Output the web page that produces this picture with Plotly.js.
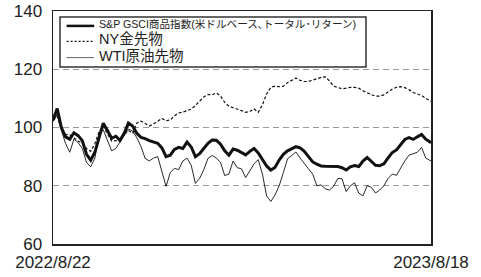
<!DOCTYPE html>
<html><head><meta charset="utf-8">
<script src="https://cdn.plot.ly/plotly-3.0.1.min.js"></script>
<style>html,body{margin:0;padding:0;background:#fff}#chart{width:481px;height:277px}</style>
</head><body><div id="chart"></div>
<script>
const dates = [
"2022-08-22","2022-08-26","2022-08-30","2022-09-03","2022-09-07","2022-09-11","2022-09-15","2022-09-19","2022-09-23","2022-09-27",
"2022-10-01","2022-10-05","2022-10-09","2022-10-13","2022-10-17","2022-10-21","2022-10-25","2022-10-29",
"2022-11-02","2022-11-06","2022-11-10","2022-11-14","2022-11-18","2022-11-22","2022-11-26","2022-11-30",
"2022-12-04","2022-12-08","2022-12-12","2022-12-16","2022-12-20","2022-12-24","2022-12-28",
"2023-01-01","2023-01-05","2023-01-09","2023-01-13","2023-01-17","2023-01-21","2023-01-25","2023-01-29",
"2023-02-02","2023-02-06","2023-02-10","2023-02-14","2023-02-18","2023-02-22","2023-02-26",
"2023-03-02","2023-03-06","2023-03-10","2023-03-14","2023-03-18","2023-03-22","2023-03-26","2023-03-30",
"2023-04-03","2023-04-07","2023-04-11","2023-04-15","2023-04-19","2023-04-23","2023-04-27",
"2023-05-01","2023-05-05","2023-05-09","2023-05-13","2023-05-17","2023-05-21","2023-05-25","2023-05-29",
"2023-06-02","2023-06-06","2023-06-10","2023-06-14","2023-06-18","2023-06-22","2023-06-26","2023-06-30",
"2023-07-04","2023-07-08","2023-07-12","2023-07-16","2023-07-20","2023-07-24","2023-07-28",
"2023-08-01","2023-08-05","2023-08-09","2023-08-13","2023-08-18"];

const gsci = [102.6,106.5,100,96.8,96,98.2,97.2,95.5,90.8,88.8,
91.5,97,101.5,99,96.3,97,95.6,98,
101.5,100.5,98,96.6,96.2,95.5,95,94.6,
93,90,90.5,92.5,93.2,92.8,95,
93.3,90,91,92.8,94.6,95.7,95.6,94.3,
92,90.5,92.6,92.2,91.3,90.6,91.8,
92.8,91.3,89,86.8,85.4,86.3,88.8,90.8,
92,92.8,93.4,93,91.8,90,88.2,
87.4,86.8,86.7,86.7,86.6,86.6,86.2,85.4,
86.5,86.9,86.6,88.5,89.7,88.3,87,86.9,
87.5,89.6,91.4,92.3,94,95.9,96.5,
95.9,96.8,97.6,96,94.8];

const gold = [102.5,103.8,99.5,97.6,97.5,96.3,95.4,94.5,92.8,91.8,
94.5,98.5,100.5,97.8,95.3,95.5,95.3,97.5,
99,98,101.5,102.2,101.4,100.5,101.2,102.2,
103.1,102.3,102.6,104,105,105.3,105.8,
106.3,107.6,109,110.5,111.3,111.2,111.9,110.8,
108.6,107.3,106.8,106.4,105.8,105.2,105.5,
106.4,105.2,107.8,111.5,113.8,114.2,114,114.2,
115.4,116.3,117,116.2,115.8,115.8,116.3,
116.8,117.2,117.4,116,114.2,113.7,113.3,113.5,
113.8,113.8,113.5,112.6,111.9,111.3,110.8,110.8,
111.2,112.3,113.2,113.8,114,113.7,113,
112,111.6,111,110,109];

const wti = [102,104.5,99,94.5,91.5,96,94.8,92.8,88,86.5,
89.5,98,99.2,95.5,92,92.8,95,97,
99.5,98.8,96.5,93.5,89.4,88.5,89.5,90,
85,79.8,84.5,86,85.5,88.5,89.5,
87,80.8,82.5,85.5,89.4,90.4,89.5,88,
83.5,84,88.5,86.2,85.8,82.8,85,
87.5,89,84,76.5,74.6,76.8,80,84.5,
89.3,90.4,91.6,89.5,87.8,85.8,84,
80,80.3,79,78.5,79.8,82.5,82.4,78,
80,81,77.5,76.5,80,79.5,77.5,78.5,
80,82.5,84,83.6,86.3,88.5,90.5,
91,91.5,93.2,89.5,88.5];

const names = ['S&P GSCI商品指数(米ドルベース､トータル･リターン)', 'NY金先物', 'WTI原油先物'];
const xTicks = ['2022-08-22','2023-08-18'];
const xTickText = ['2022/8/22','2023/8/18'];
const yTicks = [60,80,100,120,140];

const styles = [
  {color:'#111',width:3, dash:'solid'},
  {color:'#111',width:1.2,dash:'3px,2px'},
  {color:'#111',width:0.9, dash:'solid'}
];
const legStyles = [
  {color:'#111',width:2.5, dash:'solid'},
  {color:'#111',width:1.2,dash:'2px,2px'},
  {color:'#666',width:1, dash:'solid'}
];
const series = [gsci, gold, wti];
const traces = series.map((s,i)=>({x:dates, y:s, name:names[i], mode:'lines', line:styles[i], showlegend:false}));

// manual legend: box, sample lines, and one multi-line label (paper coordinates)
const legRows = [0.936, 0.870, 0.800];
const shapes = [{type:'rect', xref:'paper', yref:'paper', x0:0.0185, x1:0.828, y0:0.760, y1:0.974,
  line:{color:'#333', width:1.5}, fillcolor:'#fff', layer:'above'}];
legRows.forEach((yy,i)=>{
  shapes.push({type:'line', xref:'paper', yref:'paper', x0:0.036, x1:0.109, y0:yy, y1:yy,
    line:legStyles[i], layer:'above'});
});
const legText = '<span style="font-size:10.6px">' + names[0] + '</span><br><span style="font-size:14.5px">' + names[1] +
  '</span><br><span style="font-size:14.5px">' + names[2] + '</span>';
const annotations = [{xref:'paper', yref:'paper', x:0.118, y:0.870, xanchor:'left', yanchor:'middle',
  align:'left', text:legText, showarrow:false, borderpad:0,
  font:{size:12.5, color:'#222', family:'"Liberation Sans", "Noto Sans CJK JP", sans-serif'}}];

const layout = {
  width:481, height:277,
  margin:{l:53,r:50,t:11,b:33},
  paper_bgcolor:'#fff', plot_bgcolor:'#fff',
  font:{family:'"Liberation Sans", sans-serif', color:'#222'},
  showlegend:false,
  shapes:shapes, annotations:annotations,
  xaxis:{type:'date', range:['2022-08-22','2023-08-18'], tickmode:'array',
    tickvals:xTicks, ticktext:xTickText, showgrid:false, zeroline:false,
    showline:true, linecolor:'#222', linewidth:1.5, mirror:true, ticks:'',
    ticklabelstandoff:2,
    tickfont:{size:17, family:'"Liberation Sans", sans-serif', color:'#222'}},
  yaxis:{range:[60,140], tickmode:'array', tickvals:yTicks, showgrid:true,
    gridcolor:'#999', griddash:'6px,4px', gridwidth:1, zeroline:false,
    showline:true, linecolor:'#222', linewidth:1.5, mirror:true, ticks:'',
    ticklabelstandoff:6,
    tickfont:{size:17, family:'"Liberation Sans", sans-serif', color:'#222'}}
};
Plotly.newPlot('chart', traces, layout, {displayModeBar:false, staticPlot:true});
</script></body></html>
